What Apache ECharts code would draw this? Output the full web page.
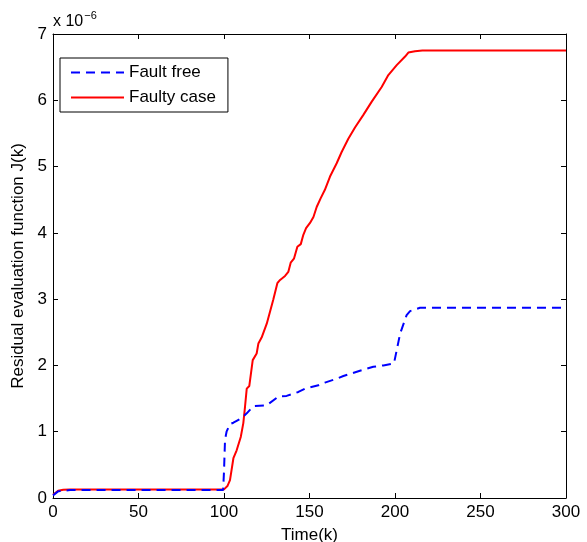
<!DOCTYPE html>
<html>
<head>
<meta charset="utf-8">
<script src="https://cdn.jsdelivr.net/npm/echarts@6/dist/echarts.min.js"></script>
<style>
  html, body { margin: 0; padding: 0; background: #fff; }
  #chart { width: 587px; height: 542px; }
</style>
</head>
<body>
<div id="chart"></div>
<script>
// values in units of 1e-6
const freeTime = [0, 1, 3, 6, 10, 20, 50, 99.5, 100, 100.6, 101.5, 103.5, 105.5, 110, 113.3, 117.1, 125, 131.8, 136.6, 143.5, 147.4, 155.2, 159, 165.9, 169.8, 179.5, 187.3, 193.2, 199.4, 203, 206.8, 208.8, 214.6, 300]
const freeVal = [0.04, 0.07, 0.1, 0.11, 0.12, 0.12, 0.12, 0.12, 0.4, 0.88, 1.0, 1.116, 1.136, 1.2, 1.277, 1.387, 1.4, 1.53, 1.54, 1.6, 1.65, 1.7, 1.74, 1.8, 1.84, 1.92, 1.98, 2.0, 2.03, 2.48, 2.76, 2.82, 2.87, 2.87]

const faultyTime = [0, 1, 3, 6, 10, 20, 50, 100, 101, 102, 103.5, 105.5, 107.4, 109.8, 111.3, 112.3, 113.3, 114.8, 116.8, 119.1, 120.1, 122, 125, 126.9, 128.8, 131.2, 132.8, 135.7, 137.6, 139, 140.9, 142.9, 144.9, 146.4, 148, 150.3, 152.3, 154.2, 156.5, 159, 162, 165.9, 168.8, 172.7, 176.6, 181.5, 186.4, 192.2, 196.1, 201, 205.9, 207.8, 211.7, 216, 300]
const faultyVal = [0.05, 0.08, 0.11, 0.125, 0.13, 0.13, 0.13, 0.13, 0.14, 0.18, 0.27, 0.6, 0.72, 0.92, 1.13, 1.38, 1.65, 1.69, 2.08, 2.18, 2.33, 2.42, 2.63, 2.81, 2.99, 3.24, 3.29, 3.35, 3.41, 3.55, 3.61, 3.79, 3.83, 3.97, 4.07, 4.15, 4.24, 4.39, 4.52, 4.65, 4.85, 5.05, 5.22, 5.42, 5.59, 5.78, 5.98, 6.2, 6.38, 6.53, 6.66, 6.72, 6.74, 6.75, 6.75]

const seriesNames = ['Fault free', 'Faulty case']

const pairs = function (xs, ys) {
    let out = []
    for (let i = 0; i < xs.length; i++) {
        out.push([xs[i], ys[i]])
    }
    return out
}

const font = 'Liberation Sans, Arial, Helvetica, sans-serif'

const axisCommon = {
    axisLine: { show: true, onZero: false, lineStyle: { color: '#000', width: 1 } },
    axisTick: { show: true, inside: true, length: 5, lineStyle: { color: '#000' } },
    splitLine: { show: false },
}

const chart = echarts.init(document.getElementById('chart'))

const option = {
    animation: false,
    backgroundColor: '#fff',
    title: {
        left: 53,
        top: 8,
        padding: 0,
        text: '{a|x 10}{b|−6}',
        textStyle: {
            fontWeight: 'normal',
            rich: {
                a: { fontFamily: font, fontSize: 16, fontWeight: 'normal', color: '#000', lineHeight: 22, verticalAlign: 'bottom' },
                b: { fontFamily: font, fontSize: 11, fontWeight: 'normal', color: '#000', lineHeight: 22, verticalAlign: 'top', padding: [2, 0, 0, 1] },
            },
        },
    },
    grid: { left: 53, right: 21, top: 34, bottom: 44, outerBoundsMode: 'none' },
    legend: {
        left: 60,
        top: 58,
        orient: 'vertical',
        data: seriesNames,
        backgroundColor: '#fff',
        borderColor: '#000',
        borderWidth: 1,
        padding: [6, 12, 6, 10],
        itemWidth: 53,
        itemHeight: 14,
        itemGap: 8,
        itemStyle: { opacity: 0 },
        textStyle: { fontFamily: font, fontSize: 17, color: '#000' },
    },
    xAxis: [
        Object.assign({
            type: 'value',
            min: 0,
            max: 300,
            interval: 50,
            name: 'Time(k)',
            nameLocation: 'middle',
            nameGap: 29,
            nameTextStyle: { fontFamily: font, fontSize: 17, color: '#000' },
            axisLabel: { fontFamily: font, fontSize: 17, color: '#000', margin: 6 },
        }, axisCommon),
        Object.assign({
            type: 'value',
            position: 'top',
            min: 0,
            max: 300,
            interval: 50,
            axisLabel: { show: false },
        }, axisCommon),
    ],
    yAxis: [
        Object.assign({
            type: 'value',
            min: 0,
            max: 7,
            interval: 1,
            name: 'Residual evaluation function J(k)',
            nameLocation: 'middle',
            nameGap: 21,
            nameTextStyle: { fontFamily: font, fontSize: 17, color: '#000' },
            axisLabel: { fontFamily: font, fontSize: 17, color: '#000', margin: 6 },
        }, axisCommon),
        Object.assign({
            type: 'value',
            position: 'right',
            min: 0,
            max: 7,
            interval: 1,
            axisLabel: { show: false },
        }, axisCommon),
    ],
    series: [
        {
            name: seriesNames[0],
            type: 'line',
            data: pairs(freeTime, freeVal),
            showSymbol: false,
            symbol: 'none',
            color: '#0000ff',
            lineStyle: { color: '#0000ff', width: 2, type: [9, 6] },
            z: 3,
        },
        {
            name: seriesNames[1],
            type: 'line',
            data: pairs(faultyTime, faultyVal),
            showSymbol: false,
            symbol: 'none',
            color: '#ff0000',
            lineStyle: { color: '#ff0000', width: 2 },
            z: 2,
        },
    ],
}

chart.setOption(option)
</script>
</body>
</html>
